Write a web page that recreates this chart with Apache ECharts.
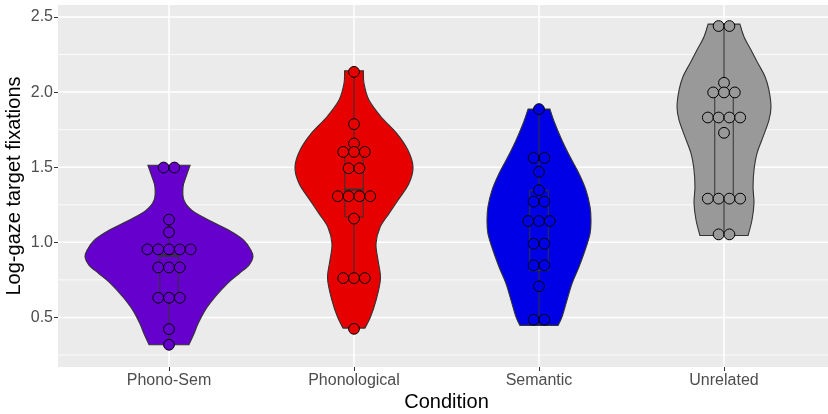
<!DOCTYPE html>
<html><head><meta charset="utf-8">
<script src="https://cdn.jsdelivr.net/npm/echarts@6/dist/echarts.min.js"></script>
<style>html,body{margin:0;padding:0;background:#fff}#c{width:828px;height:414px}</style>
</head><body><div id="c"></div>
<script>
// ---------- data ----------
const categories = ['Phono-Sem', 'Phonological', 'Semantic', 'Unrelated'];
const fillColors = ['#6600CC', '#E60000', '#0000E6', '#999999'];
const yMajorTicks = [0.5, 1.0, 1.5, 2.0, 2.5];
const yMinorTicks = [0.25, 0.75, 1.25, 1.75, 2.25];
const xTicks = [1, 2, 3, 4];

// violin outlines: y values (top to bottom) and half widths in category units
const phonoSemViolinY = [1.513, 1.436, 1.369, 1.28, 1.213, 1.147, 1.08, 1.013, 0.947, 0.902, 0.847, 0.791, 0.724, 0.636, 0.547, 0.458, 0.391, 0.318];
const phonoSemViolinW = [0.114, 0.092, 0.076, 0.081, 0.124, 0.216, 0.324, 0.405, 0.443, 0.454, 0.432, 0.378, 0.314, 0.249, 0.195, 0.157, 0.135, 0.108];
const phonologicalViolinY = [2.142, 2.058, 1.947, 1.836, 1.724, 1.613, 1.502, 1.391, 1.28, 1.191, 1.10, 0.991, 0.88, 0.758, 0.613, 0.502, 0.429];
const phonologicalViolinW = [0.051, 0.054, 0.081, 0.146, 0.232, 0.292, 0.319, 0.297, 0.238, 0.189, 0.141, 0.119, 0.130, 0.143, 0.119, 0.089, 0.059];
const semanticViolinY = [1.887, 1.791, 1.68, 1.569, 1.458, 1.347, 1.236, 1.147, 1.058, 0.947, 0.836, 0.724, 0.613, 0.502, 0.447];
const semanticViolinW = [0.059, 0.086, 0.124, 0.168, 0.216, 0.254, 0.276, 0.281, 0.276, 0.249, 0.216, 0.178, 0.151, 0.124, 0.103];
const unrelatedViolinY = [2.453, 2.369, 2.28, 2.191, 2.102, 2.013, 1.902, 1.813, 1.702, 1.591, 1.48, 1.369, 1.258, 1.147, 1.045];
const unrelatedViolinW = [0.086, 0.108, 0.146, 0.184, 0.222, 0.243, 0.254, 0.243, 0.211, 0.178, 0.162, 0.157, 0.162, 0.151, 0.130];

// box stats: [lower whisker, Q1, median, Q3, upper whisker]
const phonoSemBox = [0.318, 0.625, 0.91, 0.915, 1.151];
const phonologicalBox = [0.762, 1.169, 1.351, 1.613, 2.135];
const semanticBox = [0.445, 0.813, 1.142, 1.347, 1.887];
const unrelatedBox = [1.045, 1.291, 1.831, 1.998, 2.445];

// dot plot bins (value) and number of stacked dots per bin
const phonoSemDots = [1.498, 1.151, 1.067, 0.953, 0.833, 0.631, 0.422, 0.318];
const phonoSemCounts = [2, 1, 1, 5, 3, 3, 1, 1];
const phonologicalDots = [2.135, 1.787, 1.658, 1.602, 1.493, 1.307, 1.158, 0.762, 0.424];
const phonologicalCounts = [1, 1, 1, 3, 2, 4, 1, 3, 1];
const semanticDots = [1.887, 1.562, 1.469, 1.347, 1.271, 1.142, 0.991, 0.847, 0.707, 0.485];
const semanticCounts = [1, 2, 1, 1, 2, 3, 2, 2, 1, 2];
const unrelatedDots = [2.44, 2.062, 1.998, 1.831, 1.729, 1.291, 1.053];
const unrelatedCounts = [2, 1, 3, 4, 1, 4, 2];

// ---------- chart ----------
const violins = [
  {y: phonoSemViolinY, w: phonoSemViolinW},
  {y: phonologicalViolinY, w: phonologicalViolinW},
  {y: semanticViolinY, w: semanticViolinW},
  {y: unrelatedViolinY, w: unrelatedViolinW}
];
const boxes = [phonoSemBox, phonologicalBox, semanticBox, unrelatedBox];
const dotBins = [phonoSemDots, phonologicalDots, semanticDots, unrelatedDots];
const dotCounts = [phonoSemCounts, phonologicalCounts, semanticCounts, unrelatedCounts];

const X_MIN = 0.4, X_MAX = 4.6, Y_MIN = 0.17, Y_MAX = 2.58;
const BOX_HALF = 0.05;
const DOT_STEP = 0.0584;
const FONT = 'Liberation Sans, Arial, Helvetica, sans-serif';

function crPath(pts) {
  let d = '';
  const n = pts.length - 1;
  for (let i = 0; i < n; i++) {
    const p0 = pts[Math.max(i - 1, 0)], p1 = pts[i], p2 = pts[i + 1], p3 = pts[Math.min(i + 2, n)];
    const c1 = [p1[0] + (p2[0] - p0[0]) / 6, p1[1] + (p2[1] - p0[1]) / 6];
    const c2 = [p2[0] - (p3[0] - p1[0]) / 6, p2[1] - (p3[1] - p1[1]) / 6];
    d += ' C' + c1[0] + ',' + c1[1] + ' ' + c2[0] + ',' + c2[1] + ' ' + p2[0] + ',' + p2[1];
  }
  return d;
}

const series = [];

// grid lines
function hLineSeries(vals, width) {
  return {
    type: 'custom', silent: true, z: 1, clip: true,
    data: vals.map(v => [X_MIN, v]),
    renderItem: (p, api) => {
      const v = api.value(1);
      const a = api.coord([X_MIN, v]), b = api.coord([X_MAX, v]);
      return {type: 'line', shape: {x1: a[0], y1: a[1], x2: b[0], y2: b[1]}, style: {stroke: '#FFFFFF', lineWidth: width}};
    }
  };
}
series.push(hLineSeries(yMinorTicks, 0.8));
series.push(hLineSeries(yMajorTicks, 1.5));
series.push({
  type: 'custom', silent: true, z: 1,
  data: xTicks.map(x => [x, Y_MIN]),
  renderItem: (p, api) => {
    const x = api.value(0);
    const a = api.coord([x, Y_MIN]), b = api.coord([x, Y_MAX]);
    return {type: 'line', shape: {x1: a[0], y1: a[1], x2: b[0], y2: b[1]}, style: {stroke: '#FFFFFF', lineWidth: 1.5}};
  }
});

// violins
categories.forEach((c, k) => {
  series.push({
    type: 'custom', silent: true, z: 2,
    data: [[k + 1, violins[k].y[0]]],
    renderItem: (p, api) => {
      const cx = api.value(0);
      const V = violins[k];
      const R = V.y.map((v, i) => api.coord([cx + V.w[i], v]));
      const L = V.y.map((v, i) => api.coord([cx - V.w[i], v])).reverse();
      const top = L[L.length - 1];
      const d = 'M' + top[0] + ',' + top[1] + ' L' + R[0][0] + ',' + R[0][1] + crPath(R) +
        ' L' + L[0][0] + ',' + L[0][1] + crPath(L) + ' Z';
      return {type: 'path', shape: {pathData: d}, style: {fill: fillColors[k], stroke: '#333333', lineWidth: 1.1}};
    }
  });
});

// box plots
categories.forEach((c, k) => {
  series.push({
    type: 'custom', silent: true, z: 3,
    data: [[k + 1, boxes[k][2]]],
    renderItem: (p, api) => {
      const cx = api.value(0);
      const s = boxes[k];
      const lo = api.coord([cx, s[0]]), hi = api.coord([cx, s[4]]);
      const q1 = api.coord([cx - BOX_HALF, s[1]]), q3 = api.coord([cx + BOX_HALF, s[3]]);
      const mL = api.coord([cx - BOX_HALF, s[2]]), mR = api.coord([cx + BOX_HALF, s[2]]);
      const st = {stroke: '#333333', lineWidth: 1, fill: null};
      return {
        type: 'group', children: [
          {type: 'line', shape: {x1: hi[0], y1: hi[1], x2: hi[0], y2: q3[1]}, style: st},
          {type: 'line', shape: {x1: lo[0], y1: q1[1], x2: lo[0], y2: lo[1]}, style: st},
          {type: 'rect', shape: {x: q1[0], y: q3[1], width: q3[0] - q1[0], height: q1[1] - q3[1]}, style: st},
          {type: 'line', shape: {x1: mL[0], y1: mL[1], x2: mR[0], y2: mR[1]}, style: {stroke: '#333333', lineWidth: 2}}
        ]
      };
    }
  });
});

// dots
categories.forEach((c, k) => {
  const pts = [];
  dotBins[k].forEach((v, i) => {
    const n = dotCounts[k][i];
    for (let j = 0; j < n; j++) pts.push([k + 1 + (j - (n - 1) / 2) * DOT_STEP, v]);
  });
  series.push({
    type: 'scatter', silent: true, z: 4, data: pts, symbol: 'circle', symbolSize: 10.8,
    itemStyle: {color: fillColors[k], borderColor: '#000000', borderWidth: 1, opacity: 1}
  });
});

const chart = echarts.init(document.getElementById('c'), null, {renderer: 'canvas'});
chart.setOption({
  animation: false,
  backgroundColor: '#FFFFFF',
  grid: {left: 58, right: -7, top: 5, bottom: 47, show: true, backgroundColor: '#EBEBEB', borderWidth: 0,
         containLabel: false, outerBoundsMode: 'none'},
  xAxis: {
    type: 'value', min: X_MIN, max: X_MAX,
    axisLine: {show: false}, splitLine: {show: false},
    axisTick: {show: true, customValues: xTicks, length: 4, lineStyle: {color: '#333333', width: 1}},
    axisLabel: {customValues: xTicks, formatter: v => categories[Math.round(v) - 1], color: '#4D4D4D', fontSize: 16, margin: 6, fontFamily: FONT},
    name: 'Condition', nameLocation: 'middle', nameGap: 25, nameMoveOverlap: false,
    nameTextStyle: {color: '#000000', fontSize: 20, fontFamily: FONT}
  },
  yAxis: {
    type: 'value', min: Y_MIN, max: Y_MAX,
    axisLine: {show: false}, splitLine: {show: false},
    axisTick: {show: true, customValues: yMajorTicks, length: 4, lineStyle: {color: '#333333', width: 1}},
    axisLabel: {customValues: yMajorTicks, formatter: v => v.toFixed(1), color: '#4D4D4D', fontSize: 16, margin: 5, fontFamily: FONT},
    name: 'Log-gaze target fixations', nameLocation: 'middle', nameGap: 34, nameMoveOverlap: false,
    nameTextStyle: {color: '#000000', fontSize: 20, fontFamily: FONT}
  },
  series: series
});
</script></body></html>
